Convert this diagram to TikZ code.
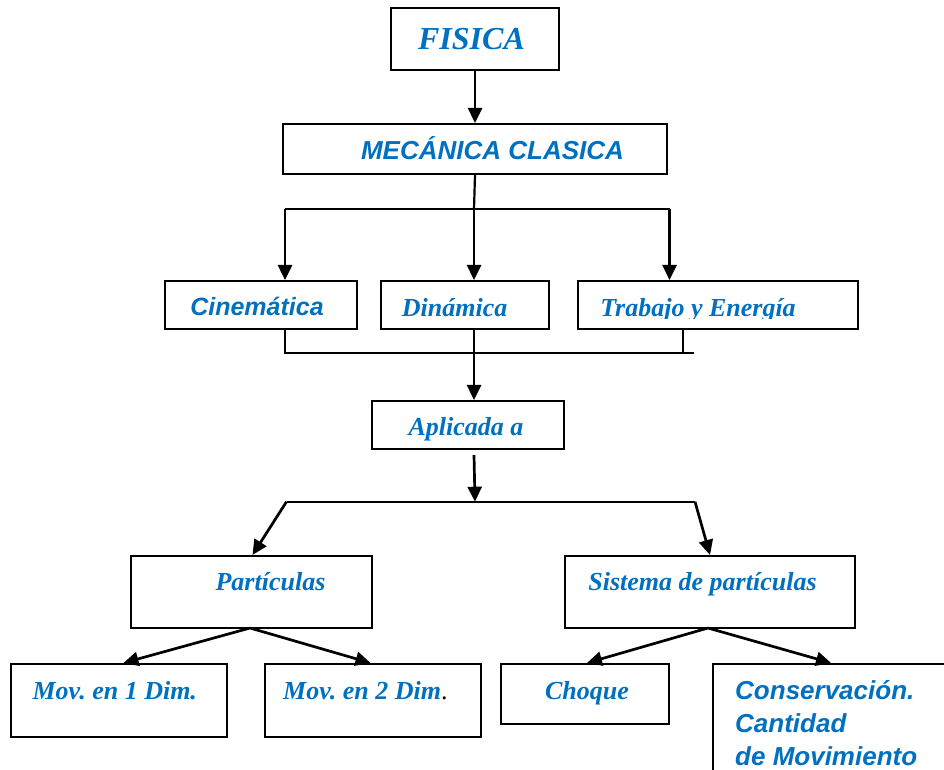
\documentclass[tikz,border=0pt]{standalone}
\usepackage{fontspec}
\setmainfont{Liberation Serif}
\setsansfont{Liberation Sans}
\usetikzlibrary{arrows.meta}
\definecolor{tblue}{RGB}{0,112,192}
\newcommand\tbifont{\fontsize{26}{31}\selectfont\rmfamily\bfseries\itshape}
\newcommand\abifont{\fontsize{26}{33}\selectfont\sffamily\bfseries\itshape}
\begin{document}
\frenchspacing
\begin{tikzpicture}[x=1pt,y=-1pt,
  box/.style={draw, line width=2.1pt, inner sep=0pt},
  lbl/.style={text=tblue, font=\tbifont, anchor=base, inner sep=0pt},
  slbl/.style={text=tblue, font=\abifont, anchor=base, inner sep=0pt},
  arr/.style={line width=2.7pt, -{Triangle[length=15pt,width=14pt]}},
  ln/.style={line width=2.2pt}]
\clip (0,0) rectangle (944,769);
\fill[white] (0,0) rectangle (944,769);
% boxes
\node[box, minimum width=168, minimum height=62] (fisica) at (475,39) {};
\node[box, minimum width=384, minimum height=50] (mec) at (475,149) {};
\node[box, minimum width=192, minimum height=48] (cin) at (261,305) {};
\node[box, minimum width=168, minimum height=48] (din) at (465,305) {};
\node[box, minimum width=280, minimum height=48] (trab) at (718,305) {};
\node[box, minimum width=192, minimum height=48] (apl) at (468,425) {};
\node[box, minimum width=241, minimum height=72] (part) at (251.5,592) {};
\node[box, minimum width=290, minimum height=72] (sist) at (710,592) {};
\node[box, minimum width=216, minimum height=73] (mov1) at (119,700.5) {};
\node[box, minimum width=216, minimum height=73] (mov2) at (373,700.5) {};
\node[box, minimum width=168, minimum height=60] (choq) at (585,694) {};
\node[box, minimum width=267, minimum height=136] (cons) at (846.5,732) {};
% labels
\node[lbl, font=\fontsize{32}{38}\selectfont\rmfamily\bfseries\itshape] (tfis) at (471.5,49) {FISICA};
\node[slbl] (tmec) at (492.5,159) {MECÁNICA CLASICA};
\node[slbl, font=\fontsize{25}{30}\selectfont\sffamily\bfseries\itshape] (tcin) at (257,315.7) {Cinemática};
\node[lbl] (tdin) at (454.6,316.7) {Dinámica};
\begin{scope}
\clip (560,270) rectangle (870,318.5);
\node[lbl] (ttrab) at (698,316) {Trabajo y Energía};
\end{scope}
\node[lbl] (tapl) at (466,435) {Aplicada a};
\node[lbl] (tpart) at (270.5,590) {Partículas};
\node[lbl] (tsist) at (702.5,590) {Sistema de partículas};
\node[lbl] (tmov1) at (114.8,699) {Mov. en 1 Dim.};
\node[lbl, anchor=base west] (tmov2) at (283,699) {Mov. en 2 Dim\textcolor{black}{\upshape\mdseries.}};
\node[lbl] (tchoq) at (587,699) {Choque};
\node[slbl, anchor=base west, align=left] (tcons) at (735,765) {Conservación.\\Cantidad\\de Movimiento};
% connectors
\draw[arr] (fisica.south) -- (mec.north);
\coordinate (jt) at (474,209);
\coordinate (jl) at (285,209);
\coordinate (jr) at (669.5,209);
\draw[ln] (mec.south) -- (jt);
\draw[ln] (jl) -- (jr);
\draw[arr] (jl) -- (jl |- cin.north);
\draw[arr] (jt) -- (jt |- din.north);
\draw[arr] (jr) -- (jr |- trab.north);
\coordinate (bl) at (285,352.7);
\coordinate (br) at (694,352.7);
\coordinate (bt) at (683,352.7);
\draw[ln] (bl |- cin.south) -- (bl) -- (br);
\draw[ln] (bt |- trab.south) -- (bt);
\draw[arr] (474,329 |- din.south) -- (474,329 |- apl.north);
\coordinate (ao) at (474,455);
\coordinate (sj) at (475,501.7);
\coordinate (sl) at (286.5,501.7);
\coordinate (sr) at (695,501.7);
\draw[arr] (ao) -- (sj);
\draw[ln] (sl) -- (sr);
\draw[arr] (sl) -- (252.5,556 |- part.north);
\draw[arr] (sr) -- (710,556 |- sist.north);
\coordinate (po) at (250,628);
\coordinate (so) at (708,628);
\draw[arr] (po) -- (123.5,664 |- mov1.north);
\draw[arr] (po) -- (370.5,664 |- mov2.north);
\draw[arr] (so) -- (587,664 |- choq.north);
\draw[arr] (so) -- (831,664 |- cons.north);
\end{tikzpicture}
\end{document}
